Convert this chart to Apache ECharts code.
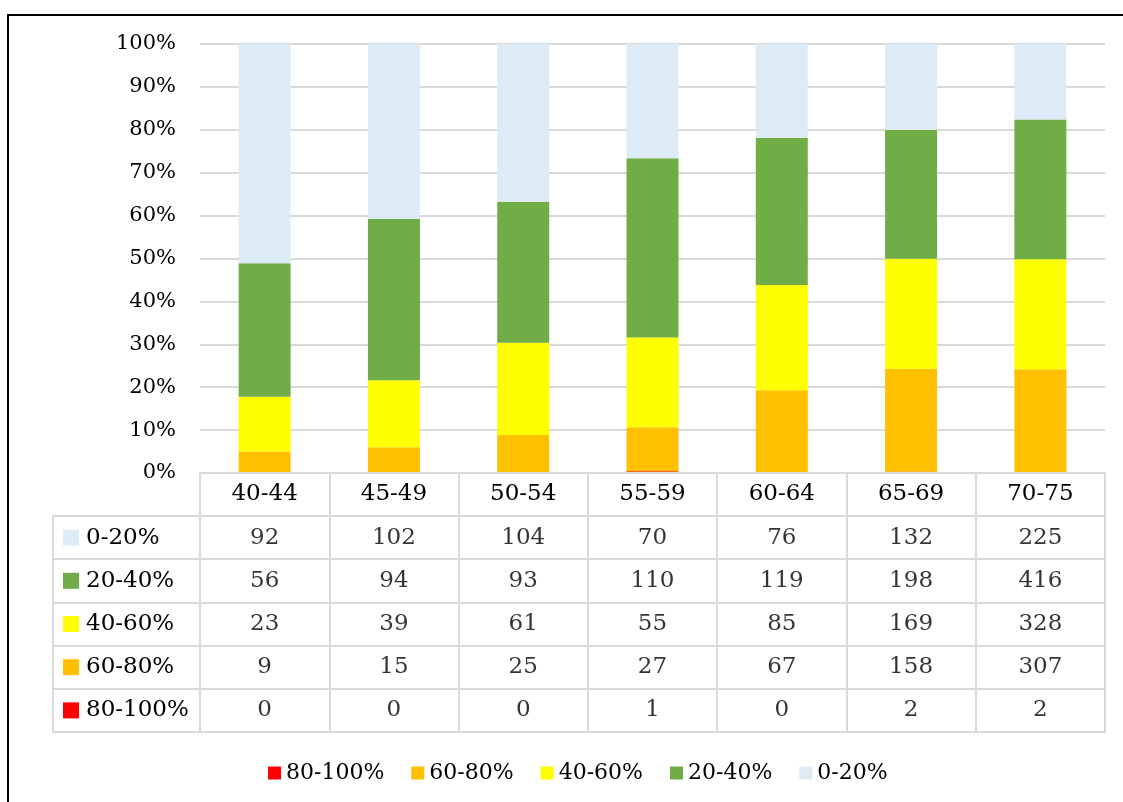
<!DOCTYPE html>
<html>
<head>
<meta charset="utf-8">
<script src="https://cdn.jsdelivr.net/npm/echarts@6/dist/echarts.min.js"></script>
<style>
  html, body { margin: 0; padding: 0; background: #ffffff; }
  #chart { width: 1123px; height: 802px; }
</style>
</head>
<body>
<div id="chart"></div>
<script>
// Age groups along the horizontal axis
const categories = ['40-44', '45-49', '50-54', '55-59', '60-64', '65-69', '70-75'];

// Counts per score band for each age group
const band0to20 = [92, 102, 104, 70, 76, 132, 225];
const band20to40 = [56, 94, 93, 110, 119, 198, 416];
const band40to60 = [23, 39, 61, 55, 85, 169, 328];
const band60to80 = [9, 15, 25, 27, 67, 158, 307];
const band80to100 = [0, 0, 0, 1, 0, 2, 2];

// Band names and colours
const bandNames = ['0-20%', '20-40%', '40-60%', '60-80%', '80-100%'];
const bandColors = ['#DDEBF7', '#70AD47', '#FFFF00', '#FFC000', '#FF0000'];
const bandValues = [band0to20, band20to40, band40to60, band60to80, band80to100];

// Y-axis tick settings (percent)
const yMin = 0, yMax = 100, yStep = 10;

const FONT = 'DejaVu Serif';
const GRID_COLOR = '#d9d9d9';

// Column totals used to turn counts into shares of 100%
const totals = categories.map((_, i) => bandValues.reduce((s, arr) => s + arr[i], 0));
const toPercent = arr => arr.map((v, i) => totals[i] ? v / totals[i] * 100 : 0);

// Stacked bars, bottom band first (80-100% at the base)
const stackOrder = [4, 3, 2, 1, 0];
const barSeries = stackOrder.map(k => ({
  name: bandNames[k],
  type: 'bar',
  stack: 'share',
  xAxisIndex: 0,
  yAxisIndex: 0,
  barWidth: 52,
  itemStyle: { color: bandColors[k] },
  emphasis: { disabled: true },
  data: toPercent(bandValues[k])
}));

// Data table cells: one label per (age group, band)
const cellData = [];
bandValues.forEach((arr, r) => arr.forEach((v, i) => cellData.push([i, r, v])));

const rich = { t: { fontFamily: FONT, fontSize: 23, color: '#000', padding: [0, 0, 0, 7] } };
bandColors.forEach((c, k) => { rich['s' + k] = { width: 16, height: 16, backgroundColor: c }; });

const chart = echarts.init(document.getElementById('chart'));
chart.setOption({
  animation: false,
  textStyle: { fontFamily: FONT },
  graphic: [{
    type: 'rect',
    shape: { x: 8, y: 15, width: 1300, height: 1000 },
    style: { fill: 'none', stroke: '#000', lineWidth: 2 },
    silent: true
  }],
  legend: {
    data: stackOrder.map(k => bandNames[k]),
    left: 263,
    top: 757,
    icon: 'rect',
    itemWidth: 13,
    itemHeight: 13,
    itemGap: 27,
    textStyle: { fontFamily: FONT, fontSize: 22, color: '#000' },
    selectedMode: false
  },
  grid: [
    { left: 200, right: 18, top: 44, height: 429 },
    { left: 200, right: 18, top: 516, height: 216 }
  ],
  xAxis: [
    {
      type: 'category', gridIndex: 0, data: categories, z: 5,
      axisLine: { lineStyle: { color: GRID_COLOR, width: 2 } },
      axisTick: { show: true, length: 43, interval: 0, lineStyle: { color: GRID_COLOR, width: 2 } },
      axisLabel: { fontFamily: FONT, fontSize: 23, color: '#000', margin: 10, interval: 0 }
    },
    {
      type: 'category', gridIndex: 1, data: categories,
      axisLine: { show: true, lineStyle: { color: GRID_COLOR, width: 2 } },
      axisTick: { show: false },
      axisLabel: { show: false },
      splitLine: { show: true, interval: 0, lineStyle: { color: GRID_COLOR, width: 2 } }
    }
  ],
  yAxis: [
    {
      type: 'value', gridIndex: 0, min: yMin, max: yMax, interval: yStep,
      axisLine: { show: false },
      axisTick: { show: false },
      axisLabel: { formatter: '{value}%', fontFamily: FONT, fontSize: 21, color: '#000', margin: 24 },
      splitLine: { show: true, lineStyle: { color: GRID_COLOR, width: 2 } }
    },
    {
      type: 'category', gridIndex: 1, data: bandNames, inverse: true,
      axisLine: { show: true, lineStyle: { color: GRID_COLOR, width: 2 } },
      axisTick: { show: true, length: 147, interval: 0, lineStyle: { color: GRID_COLOR, width: 2 } },
      axisLabel: {
        align: 'left', margin: 137, interval: 0,
        formatter: (val, idx) => '{s' + idx + '|}{t|' + val + '}',
        rich: rich
      },
      splitLine: { show: true, interval: 0, lineStyle: { color: GRID_COLOR, width: 2 } }
    },
    {
      type: 'value', gridIndex: 1, position: 'left', offset: 147,
      axisLine: { show: true, lineStyle: { color: GRID_COLOR, width: 2 } },
      axisTick: { show: false }, axisLabel: { show: false }, splitLine: { show: false }
    },
    {
      type: 'value', gridIndex: 1, position: 'right',
      axisLine: { show: true, lineStyle: { color: GRID_COLOR, width: 2 } },
      axisTick: { show: false }, axisLabel: { show: false }, splitLine: { show: false }
    }
  ],
  series: barSeries.concat([{
    name: 'table',
    type: 'scatter',
    xAxisIndex: 1,
    yAxisIndex: 1,
    symbol: 'rect',
    symbolSize: 1,
    silent: true,
    itemStyle: { color: 'rgba(0,0,0,0)' },
    label: {
      show: true, position: 'inside',
      formatter: p => String(p.value[2]),
      fontFamily: FONT, fontSize: 23, color: '#000'
    },
    data: cellData
  }])
});
</script>
</body>
</html>
